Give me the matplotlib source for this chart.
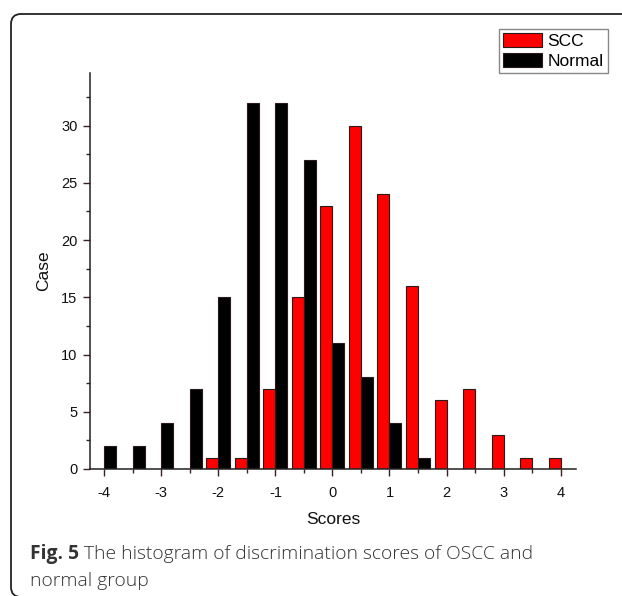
import matplotlib
matplotlib.use("Agg")
import matplotlib.pyplot as plt
import numpy as np
from matplotlib.patches import FancyBboxPatch
from matplotlib.transforms import IdentityTransform
from matplotlib.ticker import MultipleLocator

# ---- data ----
scores = [-4, -3.5, -3, -2.5, -2, -1.5, -1, -0.5, 0, 0.5, 1, 1.5, 2, 2.5, 3, 3.5, 4]
scc    = [0, 0, 0, 0, 1, 1, 7, 15, 23, 30, 24, 16, 6, 7, 3, 1, 1]
normal = [2, 2, 4, 7, 15, 32, 32, 27, 11, 8, 4, 1, 0, 0, 0, 0, 0]
series_names = ["SCC", "Normal"]
x_label = "Scores"
y_label = "Case"
caption_bold = "Fig. 5"
caption_rest = " The histogram of discrimination scores of OSCC and"
caption_line2 = "normal group"

W, H = 622, 596
fig = plt.figure(figsize=(W / 100, H / 100), dpi=100)
plt.rcParams['font.family'] = ['Liberation Sans', 'DejaVu Sans']

ax = fig.add_axes([90 / W, 1 - 469 / H, (576 - 90) / W, (469 - 73) / H])

x = np.array(scores, dtype=float)
bw = 0.21
edge = '#2a1a1a'
ax.bar(x - bw / 2, scc, width=bw, color='#ff0000', edgecolor=edge, linewidth=0.8,
       label=series_names[0], zorder=2)
ax.bar(x + bw / 2, normal, width=bw, color='#000000', edgecolor=edge, linewidth=0.8,
       label=series_names[1], zorder=2)

ax.set_xlim(-4.25, 4.27)
ax.set_ylim(0, 34.6)
ax.xaxis.set_minor_locator(MultipleLocator(0.5))
ax.yaxis.set_major_locator(MultipleLocator(5))
ax.yaxis.set_minor_locator(MultipleLocator(2.5))
ax.set_xticks([-4, -3, -2, -1, 0, 1, 2, 3, 4])
ax.set_xticklabels(['-4', '-3', '-2', '-1', '0', '1', '2', '3', '4'])

for s in ['top', 'right']:
    ax.spines[s].set_visible(False)
for s in ['left', 'bottom']:
    ax.spines[s].set_color('#222222')
    ax.spines[s].set_linewidth(1.1)

ax.tick_params(axis='both', which='major', direction='out', length=5, width=1,
               color='#3a2020', labelsize=10.5, labelcolor='#111111')
ax.tick_params(axis='x', which='major', pad=7)
ax.tick_params(axis='y', which='major', pad=4)
ax.tick_params(axis='both', which='minor', direction='out', length=3, width=1,
               color='#3a2020')

ax.set_xlabel(x_label, fontsize=12.5, labelpad=9, color='#111111')
ax.set_ylabel(y_label, fontsize=12.5, labelpad=7, color='#111111')

leg = ax.legend(loc='upper right', bbox_to_anchor=(608 / W, 1 - 29 / H),
                bbox_transform=fig.transFigure, borderaxespad=0, fontsize=12.5,
                fancybox=False, framealpha=1, edgecolor='#888888',
                handlelength=2.25, handleheight=0.8, handletextpad=0.3,
                borderpad=0.25, labelspacing=0.25)
leg.get_frame().set_linewidth(1.0)

# rounded frame around the figure
frame = FancyBboxPatch((11, -1), 660, 583, boxstyle="round,pad=0,rounding_size=10",
                       transform=IdentityTransform(), fill=False,
                       edgecolor='#222222', linewidth=1.3)
fig.patches.append(frame)

cap_fam = ['Open Sans', 'DejaVu Sans']
cap_size = 13.9
t1 = fig.text(30 / W, 1 - 559 / H, caption_bold, fontsize=cap_size, fontweight='bold',
              family=cap_fam, color='#333333', va='baseline', ha='left')
fig.canvas.draw()
bb = t1.get_window_extent()
fig.text(bb.x1 / W, 1 - 559 / H, caption_rest, fontsize=cap_size, family=cap_fam,
         fontweight='light', color='#333333', va='baseline', ha='left')
fig.text(30 / W, 1 - 586 / H, caption_line2, fontsize=cap_size, family=cap_fam,
         fontweight='light', color='#333333', va='baseline', ha='left')

fig.savefig("out.png", dpi=100)
